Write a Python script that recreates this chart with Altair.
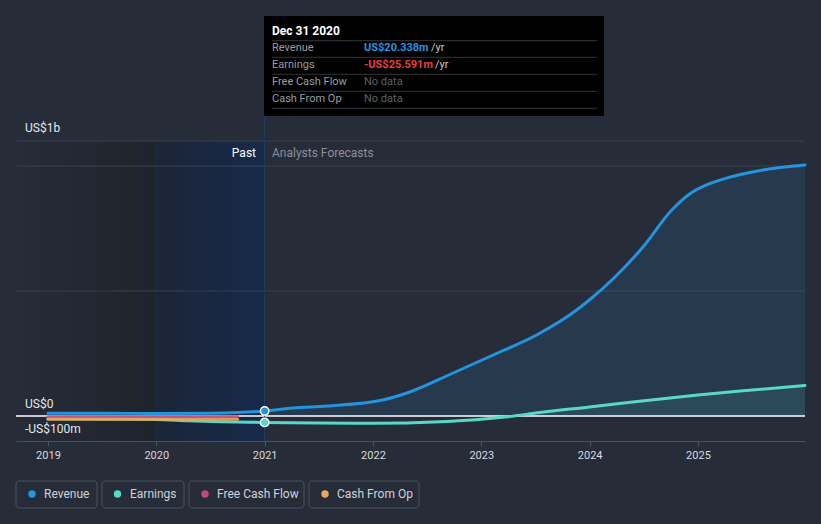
import altair as alt
import pandas as pd

# ---------------- data (US$ millions, decimal years) ----------------
rev_years = [2019.0, 2019.5, 2020.0, 2020.5, 2020.75, 2021.0, 2021.26, 2021.575, 2022.09,
             2022.34, 2022.74, 2023.11, 2023.51, 2023.88, 2024.0, 2024.22, 2024.5, 2024.75,
             2024.93, 2025.1, 2025.3, 2025.6, 2025.988]
rev_vals = [11, 11, 10, 11, 14, 20.338, 32, 40, 64, 96, 172, 244, 324, 424, 465, 550, 680, 820,
            890, 928, 956, 984, 1004]

earn_years = [2019.0, 2019.5, 2020.0, 2020.3, 2020.6, 2021.0, 2021.5, 2022.0, 2022.62,
              2023.0, 2023.24, 2023.54, 2024.0, 2024.46, 2025.0, 2025.39, 2025.988]
earn_vals = [-11, -12, -14, -19, -23, -25.591, -28, -29, -23, -13, -3, 14, 36, 59, 84, 100, 122]

fcf_years = [2019.0, 2020.0, 2020.75]
fcf_vals = [-3, -3, -3]

cfo_years = [2019.0, 2020.0, 2020.75]
cfo_vals = [-13, -13, -13]

grid_vals = [1100, 1000, 500]
x_ticks = [2019, 2020, 2021, 2022, 2023, 2024, 2025]
past_start, past_end = 2018.705, 2020.0
hover_start, hover_end = 2020.0, 2021.0
x_domain = [2018.705, 2025.988]
y_domain = [-100, 1100]

series_names = ["Revenue", "Earnings", "Free Cash Flow", "Cash From Op"]
series_colors = ["#2394df", "#58d9c7", "#c2497f", "#e8aa5a"]

BG = "#262c38"
FONT = "Roboto"

rev_df = pd.DataFrame({"year": rev_years, "value": rev_vals})
earn_df = pd.DataFrame({"year": earn_years, "value": earn_vals})
fcf_df = pd.DataFrame({"year": fcf_years, "value": fcf_vals})
cfo_df = pd.DataFrame({"year": cfo_years, "value": cfo_vals})

X = alt.X("year:Q", scale=alt.Scale(domain=x_domain, nice=False, zero=False),
          axis=alt.Axis(values=x_ticks, format="d", labelColor="#d9dbde", labelFontSize=11,
                        labelFont=FONT, tickColor="#4a505c", domainColor="#4a505c",
                        tickSize=5, labelPadding=3, grid=False, title=None))
Y = alt.Y("value:Q", scale=alt.Scale(domain=y_domain, nice=False, zero=False), axis=None)

# ---------------- background regions ----------------
past_bg = alt.Chart(pd.DataFrame({"s": [past_start], "e": [past_end]})).mark_rect(
    fill=alt.LinearGradient(gradient="linear", x1=0, x2=1, y1=0, y2=0,
                            stops=[alt.GradientStop(color="#262c38", offset=0),
                                   alt.GradientStop(color="#1f232b", offset=1)])
).encode(x=alt.X("s:Q", scale=alt.Scale(domain=x_domain, nice=False, zero=False)), x2="e:Q",
         y=alt.value(0), y2=alt.value(300))

hover_bg = alt.Chart(pd.DataFrame({"s": [hover_start], "e": [hover_end]})).mark_rect(
    fill=alt.LinearGradient(gradient="linear", x1=0, x2=1, y1=0, y2=0,
                            stops=[alt.GradientStop(color="#1b2538", offset=0),
                                   alt.GradientStop(color="#172a4a", offset=1)])
).encode(x="s:Q", x2="e:Q", y=alt.value(0), y2=alt.value(300))

hover_edge = alt.Chart(pd.DataFrame({"year": [hover_start]})).mark_rule(
    color="#1d2b44", strokeWidth=1
).encode(x="year:Q", y=alt.value(0), y2=alt.value(300))

grid = alt.Chart(pd.DataFrame({"value": grid_vals})).mark_rule(
    color="#3b414d", strokeWidth=1
).encode(y=Y, x=alt.value(0), x2=alt.value(789))

zero_line = alt.Chart(pd.DataFrame({"value": [0]})).mark_rule(
    color="#ffffff", strokeWidth=1.5
).encode(y="value:Q", x=alt.value(0), x2=alt.value(789))

# ---------------- areas ----------------
rev_area = alt.Chart(rev_df).transform_filter("datum.year >= 2021").mark_area(
    color="#2394df", opacity=0.13, interpolate="monotone"
).encode(x=X, y="value:Q", y2=alt.datum(0))

earn_area = alt.Chart(earn_df).transform_filter("datum.year >= 2021").transform_calculate(
    pos="max(datum.value, 0)"
).mark_area(color="#58d9c7", opacity=0.1, interpolate="monotone").encode(
    x="year:Q", y="pos:Q", y2=alt.datum(0))

# ---------------- lines ----------------
earn_line = alt.Chart(earn_df).mark_line(color=series_colors[1], strokeWidth=3,
                                         interpolate="monotone", strokeCap="round").encode(
    x="year:Q", y="value:Q")
fcf_line = alt.Chart(fcf_df).mark_line(color=series_colors[2], strokeWidth=3, opacity=0.9,
                                       strokeCap="round").encode(x="year:Q", y="value:Q")
cfo_line = alt.Chart(cfo_df).mark_line(color=series_colors[3], strokeWidth=3, opacity=0.9,
                                       strokeCap="round").encode(x="year:Q", y="value:Q")
rev_line = alt.Chart(rev_df).mark_line(color=series_colors[0], strokeWidth=3,
                                       interpolate="monotone", strokeCap="round").encode(
    x="year:Q", y="value:Q")

vline = alt.Chart(pd.DataFrame({"year": [2021.0]})).mark_rule(
    color="#1f3d68", strokeWidth=1
).encode(x="year:Q", y=alt.value(-126), y2=alt.value(300))

rev_pt = alt.Chart(rev_df).transform_filter("datum.year == 2021").mark_circle(
    size=70, color=series_colors[0], opacity=1, stroke="#ffffff", strokeWidth=1.5
).encode(x="year:Q", y="value:Q")
earn_pt = alt.Chart(earn_df).transform_filter("datum.year == 2021").mark_circle(
    size=70, color=series_colors[1], opacity=1, stroke="#ffffff", strokeWidth=1.5
).encode(x="year:Q", y="value:Q")


def txt(s, x, y, color, size=12, weight="normal", align="left"):
    return alt.Chart(pd.DataFrame({"t": [s]})).mark_text(
        align=align, baseline="middle", color=color, fontSize=size,
        fontWeight=weight, font=FONT
    ).encode(x=alt.value(x), y=alt.value(y), text="t:N")


# ---------------- tooltip ----------------
tip_box = alt.Chart(pd.DataFrame({"a": [0]})).mark_rect(color="#000000").encode(
    x=alt.value(248), x2=alt.value(588), y=alt.value(-125), y2=alt.value(-25))
tip_layers = [tip_box]
for yy in [-100.3, -83.7, -66.7, -49.7, -32.7]:
    tip_layers.append(alt.Chart(pd.DataFrame({"a": [0]})).mark_rule(
        color="#333539", strokeWidth=1).encode(
        x=alt.value(256), x2=alt.value(581), y=alt.value(yy)))
tip_layers += [
    txt("Dec 31 2020", 256, -110, "#ffffff", 12, "bold"),
    txt("Revenue", 256, -93, "#9a9da2", 11),
    txt("Earnings", 256, -76, "#9a9da2", 11),
    txt("Free Cash Flow", 256, -59, "#9a9da2", 11),
    txt("Cash From Op", 256, -42, "#9a9da2", 11),
    txt("US$20.338m", 348, -93, "#2394df", 11, "bold"),
    txt("/yr", 415, -93, "#c8c8c8", 11),
    txt("-US$25.591m", 348, -76, "#e8413f", 11, "bold"),
    txt("/yr", 419, -76, "#c8c8c8", 11),
    txt("No data", 348, -59, "#5e6166", 11),
    txt("No data", 348, -42, "#5e6166", 11),
]

# ---------------- labels ----------------
labels = [
    txt("US$1b", 9, -13, "#e6e7e9", 12),
    txt("US$0", 9, 263, "#e6e7e9", 12),
    txt("-US$100m", 9, 288, "#e6e7e9", 12),
    txt("Past", 240, 12, "#ffffff", 12, align="right"),
    txt("Analysts Forecasts", 256, 12, "#8b9099", 12),
]

# ---------------- legend ----------------
box_x = [(0, 81), (86, 168), (173, 288), (293, 403)]
dot_x = [16, 101.5, 189, 309]
lab_x = [28, 114, 201, 321]
legend = []
for i, name in enumerate(series_names):
    legend.append(alt.Chart(pd.DataFrame({"a": [0]})).mark_rect(
        fill="transparent", stroke="#4a505c", strokeWidth=1, cornerRadius=3).encode(
        x=alt.value(box_x[i][0]), x2=alt.value(box_x[i][1]),
        y=alt.value(340), y2=alt.value(367)))
    legend.append(alt.Chart(pd.DataFrame({"a": [0]})).mark_circle(
        size=55, color=series_colors[i], opacity=1).encode(
        x=alt.value(dot_x[i]), y=alt.value(353)))
    legend.append(txt(name, lab_x[i], 353, "#d0d3d8", 12))

chart = alt.layer(
    past_bg, hover_bg, hover_edge, grid, rev_area, earn_area, zero_line,
    earn_line, fcf_line, cfo_line, rev_line, vline, rev_pt, earn_pt,
    *tip_layers, *labels, *legend
).properties(
    width=789, height=300,
    padding={"left": 16, "top": 141, "right": 16, "bottom": 83},
    autosize=alt.AutoSizeParams(type="none"),
    background=BG,
).configure_view(strokeWidth=0)

chart.save("out.html", embed_options={"renderer": "svg", "actions": False})
